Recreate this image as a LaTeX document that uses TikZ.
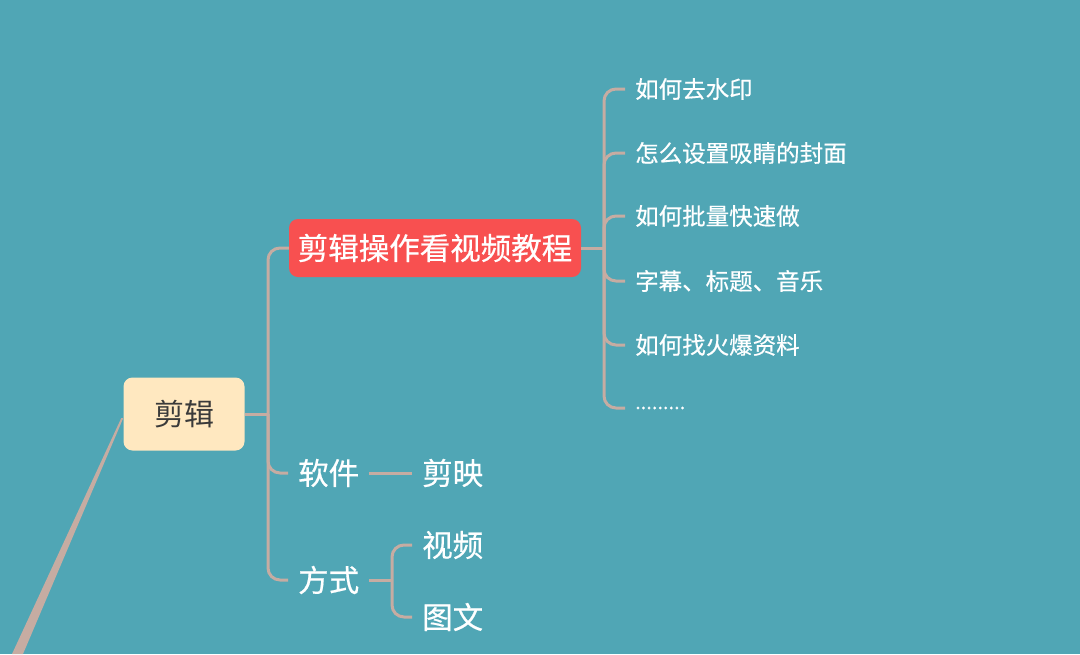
\documentclass[tikz,border=0pt]{standalone}
\usepackage{fontspec}
\setmainfont{Noto Sans CJK SC}
\newfontfamily\medfont[FakeBold=0.5]{Noto Sans CJK SC}
\definecolor{bg}{HTML}{50A6B5}
\definecolor{conn}{HTML}{C6ACA2}
\definecolor{rootfill}{HTML}{FFE8C0}
\definecolor{redfill}{HTML}{F85050}
\definecolor{darktext}{HTML}{3A3A3A}
\tikzset{
  connline/.style={draw=conn, line width=3pt, rounded corners=12pt},
  sub/.style={anchor=west, inner xsep=10pt, inner ysep=0pt, text=white, font=\medfont\fontsize{30.5}{33}\selectfont},
  leaf/.style={anchor=west, inner xsep=10pt, inner ysep=0pt, text=white, font=\medfont\fontsize{23.5}{26}\selectfont},
}
\begin{document}
\begin{tikzpicture}[x=1pt,y=-1pt]
\fill[bg] (0,0) rectangle (1080,654);
\useasboundingbox (0,0) rectangle (1080,654);

% root
\node[fill=rootfill, rounded corners=9pt, minimum width=121pt, minimum height=73pt, inner sep=0pt,
  text=darktext, font=\fontsize{30}{32}\selectfont] (root) at (184,414) {剪辑};
\fill[conn] (root.west) ++(0,4) -- ++(-2,0) -- (12,654) -- (23,654) -- cycle;

% red node
\node[fill=redfill, rounded corners=9pt, minimum width=292pt, minimum height=58pt, inner sep=0pt,
  text=white, font=\medfont\fontsize{30.5}{33}\selectfont] (red) at (435,248) {剪辑操作看视频教程};

% sub nodes
\node[sub] (soft) at (288,473) {软件};
\node[sub] (way) at (288,580) {方式};
\node[sub] (jy) at (412,473) {剪映};
\node[sub] (sp) at (412,545) {视频};
\node[sub] (tw) at (412,617) {图文};

% leaves
\node[leaf] (l1) at (625,89) {如何去水印};
\node[leaf] (l2) at (625,153) {怎么设置吸睛的封面};
\node[leaf] (l3) at (625,216) {如何批量快速做};
\node[leaf] (l4) at (625,281) {字幕、标题、音乐};
\node[leaf] (l5) at (625,345) {如何找火爆资料};
\node[leaf, font=\medfont\fontsize{20}{24}\selectfont] (l6) at (625,408) {.........};

% connectors
\coordinate (t1) at (268,414);
\draw[connline] (root.east) -- (t1);
\draw[connline] (t1) |- (red.west);
\draw[connline] (t1) |- (soft.west);
\draw[connline] (t1) |- (way.west);

\draw[connline] (soft.east) -- (jy.west);

\coordinate (t2) at (392,580);
\draw[connline] (way.east) -- (t2);
\draw[connline] (t2) |- (sp.west);
\draw[connline] (t2) |- (tw.west);

\coordinate (t3) at (604,248);
\draw[connline] (red.east) -- (t3);
\foreach \n in {l1,l2,l3,l4,l5,l6}{
  \draw[connline] (t3) |- (\n.west);
}
\end{tikzpicture}
\end{document}
